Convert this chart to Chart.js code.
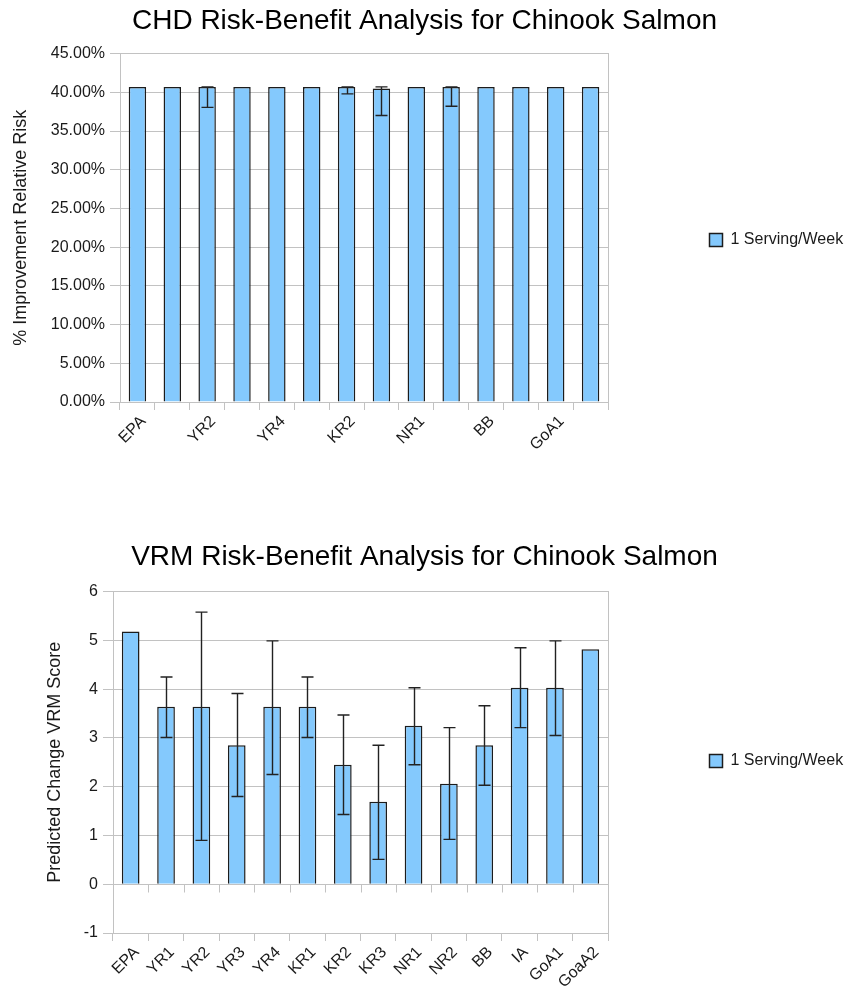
<!DOCTYPE html>
<html>
<head>
<meta charset="utf-8">
<script src="https://cdn.jsdelivr.net/npm/chart.js@4.4.0/dist/chart.umd.min.js"></script>
<style>
  body { margin: 0; background: #fff; width: 849px; height: 992px; position: relative; overflow: hidden; }
  .box { position: absolute; left: 0; width: 849px; }
  #box1 { top: 0; height: 480px; }
  #box2 { top: 530px; height: 462px; }
</style>
</head>
<body>
<div class="box" id="box1"><canvas id="chartCHD"></canvas></div>
<div class="box" id="box2"><canvas id="chartVRM"></canvas></div>
<script>
// Data
const categories = ["EPA", "YR1", "YR2", "YR3", "YR4", "KR1", "KR2", "KR3", "NR1", "NR2", "BB", "IA", "GoA1", "GoaA2"];
const seriesLabel = "1 Serving/Week";

// CHD: % improvement relative risk
const chdValues = [40.7, 40.7, 40.7, 40.7, 40.7, 40.7, 40.7, 40.5, 40.7, 40.7, 40.7, 40.7, 40.7, 40.7];
const chdErrLow = [null, null, 38.06, null, null, null, 39.8, 37.0, null, 38.2, null, null, null, null];
const chdErrHigh = [null, null, 40.7, null, null, null, 40.7, 40.7, null, 40.7, null, null, null, null];

// VRM: predicted change in VRM score
const vrmValues = [5.18, 3.64, 3.64, 2.85, 3.64, 3.64, 2.45, 1.69, 3.25, 2.06, 2.85, 4.03, 4.03, 4.82];
const vrmErrLow = [null, 3.01, 0.90, 1.80, 2.25, 3.01, 1.43, 0.51, 2.45, 0.92, 2.03, 3.21, 3.05, null];
const vrmErrHigh = [null, 4.25, 5.58, 3.91, 4.99, 4.25, 3.47, 2.85, 4.03, 3.21, 3.66, 4.85, 4.99, null];

const FONT = "'Liberation Sans', Arial, Helvetica, sans-serif";
const gridColor = "#c2c2c2";
const textColor = "#1a1a1a";
const barFill = "#84c9fd";
const barEdge = "#1c1c1c";

// Draws error bars (and optional tick marks under the zero line)
const errorBarPlugin = {
    id: "errorBars",
    afterDatasetsDraw(chart, args, opts) {
        const ctx = chart.ctx;
        const x = chart.scales.x;
        const y = chart.scales.y;
        const half = (x.getPixelForValue(1) - x.getPixelForValue(0)) / 2;
        ctx.save();
        if (opts.zeroTicks) {
            ctx.strokeStyle = gridColor;
            ctx.lineWidth = 1;
            const y0 = Math.round(y.getPixelForValue(0)) + 0.5;
            for (let i = 0; i <= categories.length; i++) {
                const px = Math.round(x.getPixelForValue(0) - half + i * 2 * half) + 0.5;
                ctx.beginPath();
                ctx.moveTo(px, y0);
                ctx.lineTo(px, y0 + 8);
                ctx.stroke();
            }
        }
        ctx.strokeStyle = "#222";
        ctx.lineWidth = 1.4;
        opts.low.forEach((lo, i) => {
            const hi = opts.high[i];
            if (lo === null || hi === null) return;
            const px = Math.round(x.getPixelForValue(i)) + 0.5;
            const pyLo = y.getPixelForValue(lo);
            const pyHi = y.getPixelForValue(hi);
            ctx.beginPath();
            ctx.moveTo(px, pyHi);
            ctx.lineTo(px, pyLo);
            ctx.moveTo(px - 6, pyHi);
            ctx.lineTo(px + 6, pyHi);
            ctx.moveTo(px - 6, pyLo);
            ctx.lineTo(px + 6, pyLo);
            ctx.stroke();
        });
        ctx.restore();
    }
};

const makeChart = (canvas, cfg) => {
    return new Chart(canvas, {
        type: "bar",
        data: {
            labels: categories,
            datasets: [{
                label: seriesLabel,
                data: cfg.values,
                backgroundColor: barFill,
                borderColor: barEdge,
                borderWidth: 1.5,
                barPercentage: 0.5,
                categoryPercentage: 1.0,
            }]
        },
        plugins: [errorBarPlugin],
        options: {
            responsive: true,
            maintainAspectRatio: false,
            animation: false,
            layout: { padding: 0 },
            plugins: {
                title: {
                    display: true,
                    text: cfg.title,
                    color: "#000",
                    font: { family: FONT, size: 28, weight: "normal" },
                    padding: cfg.titlePad,
                },
                legend: {
                    position: "right",
                    labels: {
                        color: textColor,
                        font: { family: FONT, size: 16 },
                        boxWidth: 13,
                        boxHeight: 13,
                        padding: 2,
                    }
                },
                tooltip: { enabled: false },
                errorBars: { low: cfg.errLow, high: cfg.errHigh, zeroTicks: cfg.zeroTicks },
            },
            scales: {
                x: {
                    grid: { color: gridColor, drawOnChartArea: false, drawTicks: true, tickLength: 8, offset: true },
                    border: { color: gridColor },
                    ticks: {
                        color: textColor,
                        font: { family: FONT, size: 16 },
                        autoSkip: false,
                        minRotation: 45,
                        maxRotation: 45,
                        labelOffset: 6,
                        padding: 2,
                        callback: cfg.xLabel,
                    },
                    afterFit: scale => { scale.height = cfg.xHeight; },
                },
                y: {
                    min: cfg.min,
                    max: cfg.max,
                    grid: { color: gridColor, tickLength: 10 },
                    border: { color: gridColor },
                    ticks: {
                        stepSize: cfg.step,
                        color: textColor,
                        font: { family: FONT, size: 16 },
                        padding: 5,
                        callback: cfg.yLabel,
                    },
                    title: {
                        display: true,
                        text: cfg.yTitle,
                        color: textColor,
                        font: { family: FONT, size: 18 },
                        padding: { top: cfg.yTitleOffset, bottom: 4 },
                    },
                    afterFit: scale => { scale.width = cfg.yWidth; },
                },
                y2: {
                    position: "right",
                    min: cfg.min,
                    max: cfg.max,
                    grid: { display: false },
                    border: { display: true, color: gridColor },
                    ticks: { display: false },
                    afterFit: scale => { scale.width = 99.5; },
                }
            }
        }
    });
};

makeChart(document.getElementById("chartCHD"), {
    title: "CHD Risk-Benefit Analysis for Chinook Salmon",
    yTitle: "% Improvement Relative Risk",
    values: chdValues,
    errLow: chdErrLow,
    errHigh: chdErrHigh,
    min: 0, max: 45, step: 5,
    yLabel: v => v.toFixed(2) + "%",
    xLabel: (v, i) => (i % 2 === 0 ? categories[i] : ""),
    titlePad: { top: 4, bottom: 16 },
    yTitleOffset: 10,
    yWidth: 120,
    xHeight: 78,
    zeroTicks: false,
});

makeChart(document.getElementById("chartVRM"), {
    title: "VRM Risk-Benefit Analysis for Chinook Salmon",
    yTitle: "Predicted Change VRM Score",
    values: vrmValues,
    errLow: vrmErrLow,
    errHigh: vrmErrHigh,
    min: -1, max: 6, step: 1,
    yLabel: v => v,
    xLabel: (v, i) => categories[i],
    titlePad: { top: 10, bottom: 18 },
    yTitleOffset: 44,
    yWidth: 113,
    xHeight: 59,
    zeroTicks: true,
});
</script>
</body>
</html>
